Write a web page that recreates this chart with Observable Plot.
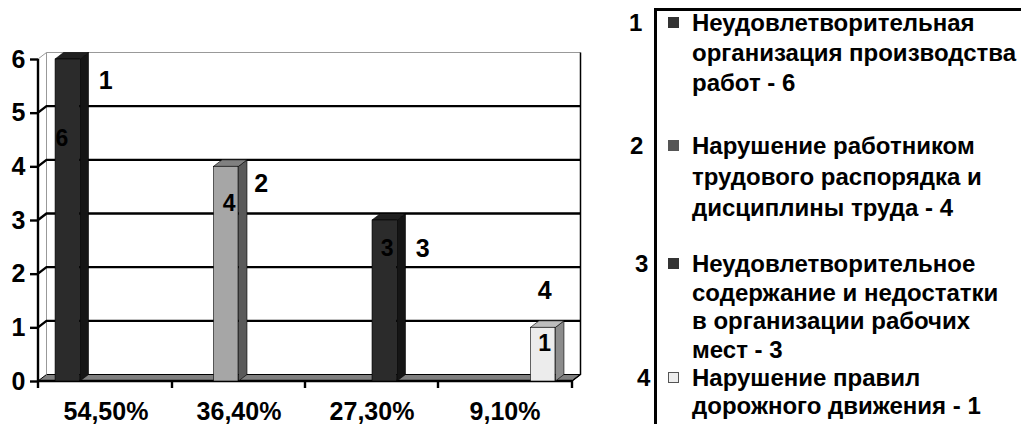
<!DOCTYPE html>
<html><head><meta charset="utf-8">
<script src="https://cdn.jsdelivr.net/npm/d3@7"></script>
<script src="https://cdn.jsdelivr.net/npm/@observablehq/plot@0.6"></script>
<style>
html,body{margin:0;padding:0;background:#fff;}
body{font-family:"Liberation Sans",Arial,sans-serif;font-weight:bold;color:#000;}
#wrap{position:relative;width:1021px;height:424px;overflow:hidden;}
#chart{position:absolute;left:0;top:0;}
#legend-box{position:absolute;left:654px;top:8px;width:500px;height:500px;border-left:3px solid #000;border-top:3px solid #000;}
.lg-num{position:absolute;font-size:24px;line-height:22px;}
.lg-line{position:absolute;left:692px;font-size:24px;line-height:22px;white-space:nowrap;}
.sw{position:absolute;left:668px;width:11px;height:11px;border:1px solid #000;box-sizing:border-box;}
</style></head>
<body>
<div id="wrap"><div id="chart"></div><div id="legend-box"></div><div id="legend"></div></div>
<script>
// ---- data ----
const categories = ["54,50%", "36,40%", "27,30%", "9,10%"];
const series = ["1", "2", "3", "4"];
const values = [6, 4, 3, 1];
const yTicks = [0, 1, 2, 3, 4, 5, 6];
const legendLines = [
  ["Неудовлетворительная", "организация производства", "работ - 6"],
  ["Нарушение работником", "трудового распорядка и", "дисциплины труда - 4"],
  ["Неудовлетворительное", "содержание и недостатки", "в организации рабочих", "мест - 3"],
  ["Нарушение правил", "дорожного движения - 1"]
];

// ---- styles / layout ----
const frontColors = ["#2b2b2b", "#a6a6a6", "#2b2b2b", "#ececec"];
const sideColors = ["#151515", "#5a5a5a", "#151515", "#8c8c8c"];
const topColors = ["#202020", "#808080", "#202020", "#bdbdbd"];
const swatchColors = ["#333333", "#555555", "#333333", "#eeeeee"];
const DX = 8.5, DY = -6.5;             // 3D depth offset (px)
const W = 620, H = 424, mL = 38, mR = 48, mT = 59, mB = 43;
const bw = (W - mL - mR) / categories.length;
const sub = d3.scaleBand().domain(series).range([0, bw]).paddingOuter(0.63).paddingInner(0.02);
const valueOff = [[-6, 79], [3, 37], [2.5, 28], [1.5, 16]];
const nameOff = [[38, 21], [35, 17], [38, 28], [1.5, -37]];
const legendFirst = [23, 146, 264, 378];   // centre of first line of each entry
const legendStep = [30, 31, 28.5, 28];
const legendNumX = [629, 630, 635, 637];

const rows = categories.map((c, i) => ({category: c, series: series[i], value: values[i], i}));

function backdrop(index, {x, y}, values, dims) {
  const g = d3.create("svg:g");
  const x0 = dims.marginLeft, x1 = dims.width - dims.marginRight;
  const y0 = y(0), yT = y(d3.max(yTicks));
  g.append("path")
    .attr("d", `M${x0},${y0}L${x1},${y0}L${x1 + DX},${y0 + DY}L${x0 + DX},${y0 + DY}Z`)
    .attr("fill", "#808080").attr("stroke", "#000").attr("stroke-width", 1);
  g.append("path")
    .attr("d", `M${x0},${yT}L${x0 + DX},${yT + DY}L${x1 + DX},${yT + DY}`)
    .attr("fill", "none").attr("stroke", "#999").attr("stroke-width", 1);
  g.append("path")
    .attr("d", `M${x0 + DX},${yT + DY}L${x0 + DX},${y0 + DY}`)
    .attr("fill", "none").attr("stroke", "#999").attr("stroke-width", 1);
  for (const v of yTicks.filter(t => t > 0 && t < d3.max(yTicks))) {
    g.append("path")
      .attr("d", `M${x0},${y(v)}L${x0 + DX},${y(v) + DY}L${x1 + DX},${y(v) + DY}`)
      .attr("fill", "none").attr("stroke", "#000").attr("stroke-width", 2.4);
  }
  g.append("path")
    .attr("d", `M${x1 + DX},${yT + DY}L${x1 + DX},${y0 + DY}L${x1},${y0}`)
    .attr("fill", "none").attr("stroke", "#000").attr("stroke-width", 1.5);
  g.append("path")
    .attr("d", `M${x0},${yT}L${x0},${y0 + 7}`)
    .attr("fill", "none").attr("stroke", "#000").attr("stroke-width", 2.4);
  g.append("path")
    .attr("d", `M${x0},${y0}L${x1},${y0}`)
    .attr("fill", "none").attr("stroke", "#000").attr("stroke-width", 2.4);
  const edges = categories.slice(1).map(c => x(c)).concat([x1]);
  for (const e of edges) {
    g.append("path").attr("d", `M${e},${y0}L${e},${y0 + 7}`)
      .attr("stroke", "#000").attr("stroke-width", 2.4);
  }
  return g.node();
}

function barDepth(index, {x, y}) {
  const g = d3.create("svg:g");
  for (const r of rows) {
    const xl = x(r.category) + sub(r.series), w = sub.bandwidth();
    const yt = y(r.value), yb = y(0);
    g.append("path")
      .attr("d", `M${xl + w},${yb}L${xl + w},${yt}L${xl + w + DX},${yt + DY}L${xl + w + DX},${yb + DY}Z`)
      .attr("fill", sideColors[r.i]).attr("stroke", "#000").attr("stroke-width", 0.6);
    g.append("path")
      .attr("d", `M${xl},${yt}L${xl + w},${yt}L${xl + w + DX},${yt + DY}L${xl + DX},${yt + DY}Z`)
      .attr("fill", topColors[r.i]).attr("stroke", "#000").attr("stroke-width", 0.6);
  }
  return g.node();
}

const barMarks = rows.map(r => Plot.barY([r], {
  x: "category", y: "value",
  fill: frontColors[r.i], stroke: "#000", strokeWidth: 0.6,
  insetLeft: sub(r.series), insetRight: bw - sub(r.series) - sub.bandwidth()
}));

const centerOf = r => sub(r.series) + sub.bandwidth() / 2 - bw / 2;
const valueLabels = rows.map(r => Plot.text([r], {
  x: "category", y: "value", text: d => String(d.value),
  dx: centerOf(r) + valueOff[r.i][0], dy: valueOff[r.i][1],
  fontSize: 23, fontWeight: "bold", fill: "#000"
}));
const nameLabels = rows.map(r => Plot.text([r], {
  x: "category", y: "value", text: "series",
  dx: centerOf(r) + nameOff[r.i][0], dy: nameOff[r.i][1],
  fontSize: 25, fontWeight: "bold", fill: "#000"
}));

const chart = Plot.plot({
  width: W, height: H,
  marginLeft: mL, marginRight: mR, marginTop: mT, marginBottom: mB,
  style: {fontFamily: "'Liberation Sans', Arial, sans-serif", fontWeight: "bold", background: "#fff", overflow: "visible"},
  x: {type: "band", domain: categories, padding: 0},
  y: {domain: [0, d3.max(yTicks)]},
  marks: [
    backdrop,
    barDepth,
    ...barMarks,
    ...valueLabels,
    ...nameLabels,
    Plot.axisY({ticks: yTicks, tickSize: 8, tickPadding: 5, strokeWidth: 2.4, fontSize: 25, fontWeight: "bold", tickFormat: d => String(d), label: null}),
    Plot.axisX({tickSize: 0, tickPadding: 21, fontSize: 25, fontWeight: "bold", label: null})
  ]
});
document.getElementById("chart").append(chart);

// ---- legend ----
const legend = document.getElementById("legend");
legendLines.forEach((lines, i) => {
  const c0 = legendFirst[i];
  const num = document.createElement("div");
  num.className = "lg-num";
  num.style.left = legendNumX[i] + "px";
  num.style.top = (c0 - 11) + "px";
  num.textContent = series[i];
  legend.append(num);
  const sw = document.createElement("div");
  sw.className = "sw";
  sw.style.top = (c0 - 6) + "px";
  sw.style.background = swatchColors[i];
  sw.style.borderColor = i === 3 ? "#555" : swatchColors[i];
  legend.append(sw);
  lines.forEach((line, k) => {
    const el = document.createElement("div");
    el.className = "lg-line";
    el.style.top = (c0 + k * legendStep[i] - 11) + "px";
    el.textContent = line;
    legend.append(el);
  });
});
</script>
</body></html>
